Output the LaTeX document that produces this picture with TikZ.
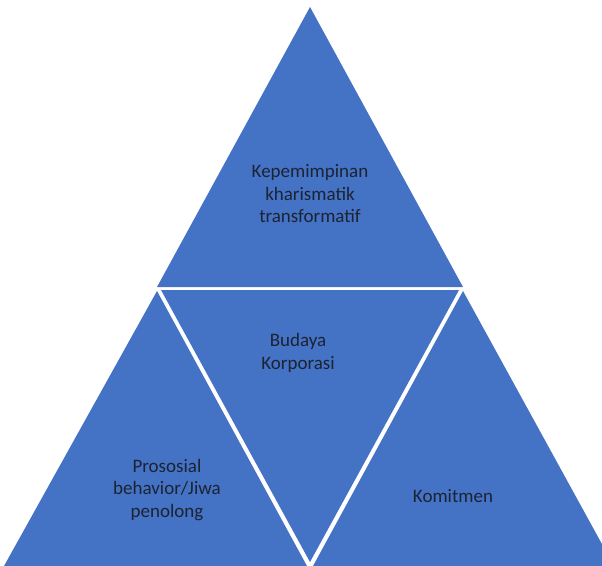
\documentclass[tikz,border=0pt]{standalone}
\usepackage{fontspec}
\setmainfont{Carlito}
\definecolor{triblue}{HTML}{4472C4}
\definecolor{txtdark}{HTML}{1C2333}
\begin{document}
\begin{tikzpicture}[x=1pt,y=-1pt,
  tri/.style={fill=triblue,draw=none},
  lbl/.style={text=txtdark,align=center,font=\fontsize{19}{22.5}\selectfont,inner sep=0pt}]
\useasboundingbox (0,0) rectangle (602,565);
\begin{scope}
\clip (0,0) rectangle (602,565);
% top triangle
\coordinate (tA) at (310,7);
\coordinate (tL) at (157,287);
\coordinate (tR) at (463,287);
\fill[tri] (tA) -- (tL) -- (tR) -- cycle;
% middle inverted triangle
\coordinate (mL) at (161,290);
\coordinate (mR) at (459,290);
\coordinate (mB) at (310,562);
\fill[tri] (mL) -- (mR) -- (mB) -- cycle;
% left triangle
\coordinate (lA) at (157,291);
\coordinate (lL) at (4,566);
\coordinate (lR) at (307,566);
\fill[tri] (lA) -- (lL) -- (lR) -- cycle;
% right triangle
\coordinate (rA) at (463,291);
\coordinate (rL) at (313,566);
\coordinate (rR) at (614,566);
\fill[tri] (rA) -- (rL) -- (rR) -- cycle;
\end{scope}
\node[lbl] (top) at (310,194) {Kepemimpinan\\kharismatik\\transformatif};
\node[lbl] (mid) at (298,353) {Budaya\\Korporasi};
\node[lbl] (left) at (167,490) {Prososial\\behavior/Jiwa\\penolong};
\node[lbl] (right) at (453,496) {Komitmen};
\end{tikzpicture}
\end{document}
